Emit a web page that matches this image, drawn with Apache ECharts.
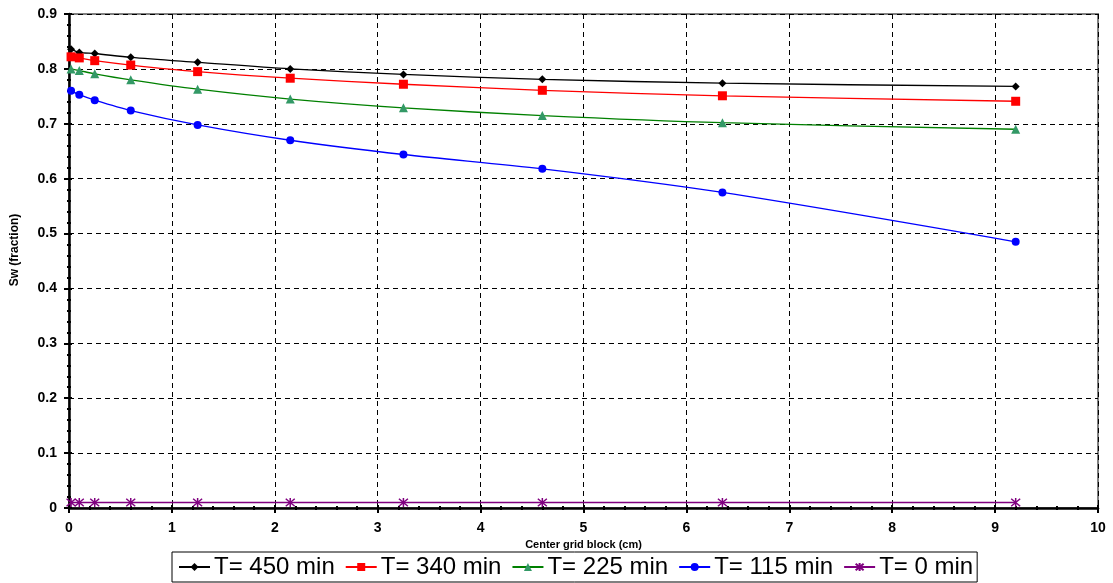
<!DOCTYPE html>
<html>
<head>
<meta charset="utf-8">
<script src="https://cdn.jsdelivr.net/npm/echarts@6/dist/echarts.min.js"></script>
<style>
  html, body { margin: 0; padding: 0; background: #fff; }
  #chart { width: 1113px; height: 583px; }
</style>
</head>
<body>
<div id="chart"></div>
<script>
// Grid block centres (cm)
const xCenters = [0.02, 0.1, 0.25, 0.6, 1.25, 2.15, 3.25, 4.6, 6.35, 9.2];
// Water saturation profiles at each time
const sw450 = [0.836, 0.830, 0.828, 0.821, 0.812, 0.800, 0.790, 0.781, 0.774, 0.768];
const sw340 = [0.822, 0.820, 0.815, 0.807, 0.795, 0.783, 0.772, 0.761, 0.751, 0.741];
const sw225 = [0.800, 0.797, 0.791, 0.780, 0.763, 0.745, 0.729, 0.715, 0.702, 0.690];
const sw115 = [0.760, 0.753, 0.743, 0.724, 0.698, 0.670, 0.644, 0.618, 0.575, 0.485];
const sw0   = [0.010, 0.010, 0.010, 0.010, 0.010, 0.010, 0.010, 0.010, 0.010, 0.010];
const seriesNames = ['T= 450 min', 'T= 340 min', 'T= 225 min', 'T= 115 min', 'T= 0 min'];

const font = 'Arial, "Liberation Sans", sans-serif';
const pair = ys => xCenters.map((x, i) => [x, ys[i]]);
const asterisk = 'path://M-5,-5L5,5M-5,5L5,-5M0,-6L0,6';

function line(name, ys, lineColor, markColor, symbol, size, extra) {
  return Object.assign({
    name: name,
    type: 'line',
    data: pair(ys),
    smooth: 0.3,
    symbol: symbol,
    symbolSize: size,
    showAllSymbol: true,
    lineStyle: { color: lineColor, width: 1.3 },
    itemStyle: { color: markColor },
    emphasis: { disabled: true },
    z: 5
  }, extra || {});
}

const chart = echarts.init(document.getElementById('chart'), null, { renderer: 'canvas' });

const baseX = { type: 'value', min: 0, max: 10, interval: 1 };
const baseY = { type: 'value', min: 0, max: 0.9, interval: 0.1 };

chart.setOption({
  animation: false,
  backgroundColor: '#fff',
  grid: {
    left: 69, right: 15, top: 14, bottom: 75,
    show: true, borderColor: '#808080', borderWidth: 2, backgroundColor: 'transparent'
  },
  legend: {
    data: seriesNames,
    left: 172, top: 552,
    orient: 'horizontal',
    itemWidth: 31, itemHeight: 10, itemGap: 10,
    padding: [3, 4, 3, 6],
    borderColor: '#000', borderWidth: 1,
    textStyle: { fontFamily: font, fontSize: 24, color: '#000', padding: [0, 0, 0, -1] }
  },
  xAxis: [
    Object.assign({}, baseX, {
      name: 'Center grid block (cm)',
      nameLocation: 'middle', nameGap: 31,
      nameTextStyle: { fontFamily: font, fontSize: 11, fontWeight: 'bold', color: '#000' },
      axisLine: { show: true, onZero: false, lineStyle: { color: '#000', width: 2.5 } },
      axisTick: { show: true, inside: false, length: 5, lineStyle: { color: '#000', width: 2 } },
      minorTick: { show: true, splitNumber: 5, length: 2, lineStyle: { color: '#000', width: 2 } },
      axisLabel: { fontFamily: font, fontSize: 14, fontWeight: 'bold', color: '#000', margin: 13 },
      splitLine: { show: true, lineStyle: { color: '#000', width: 1, type: [5, 4] } }
    }),
    Object.assign({}, baseX, {
      position: 'bottom',
      axisLine: { show: false },
      axisTick: { show: true, inside: true, length: 3, lineStyle: { color: '#000', width: 2 } },
      minorTick: { show: true, splitNumber: 5, length: 2, lineStyle: { color: '#000', width: 2 } },
      axisLabel: { show: false },
      splitLine: { show: false }
    })
  ],
  yAxis: [
    Object.assign({}, baseY, {
      name: 'Sw (fraction)',
      nameLocation: 'middle', nameGap: 48,
      nameTextStyle: {
        fontFamily: font, fontSize: 12, fontWeight: 'bold', color: '#000',
        padding: [0, 0, 0, 22]
      },
      axisLine: { show: true, onZero: false, lineStyle: { color: '#000', width: 2.5 } },
      axisTick: { show: true, inside: false, length: 5, lineStyle: { color: '#000', width: 2 } },
      minorTick: { show: true, splitNumber: 5, length: 2, lineStyle: { color: '#000', width: 2 } },
      axisLabel: {
        fontFamily: font, fontSize: 14, fontWeight: 'bold', color: '#000', margin: 12,
        formatter: v => (v === 0 ? '0' : v.toFixed(1))
      },
      splitLine: { show: true, lineStyle: { color: '#000', width: 1, type: [5, 4] } }
    }),
    Object.assign({}, baseY, {
      position: 'left',
      axisLine: { show: false },
      axisTick: { show: true, inside: true, length: 3, lineStyle: { color: '#000', width: 2 } },
      minorTick: { show: true, splitNumber: 5, length: 2, lineStyle: { color: '#000', width: 2 } },
      axisLabel: { show: false },
      splitLine: { show: false }
    })
  ],
  series: [
    line(seriesNames[0], sw450, '#000000', '#000000', 'diamond', 8),
    line(seriesNames[1], sw340, '#ff0000', '#ff0000', 'rect', 9),
    line(seriesNames[2], sw225, '#008000', '#339966', 'triangle', 9),
    line(seriesNames[3], sw115, '#0000ff', '#0000ff', 'circle', 8),
    line(seriesNames[4], sw0, '#800080', '#800080', asterisk, 9, {
      smooth: false,
      itemStyle: { color: '#800080', borderColor: '#800080', borderWidth: 1.5 }
    })
  ]
});
</script>
</body>
</html>
